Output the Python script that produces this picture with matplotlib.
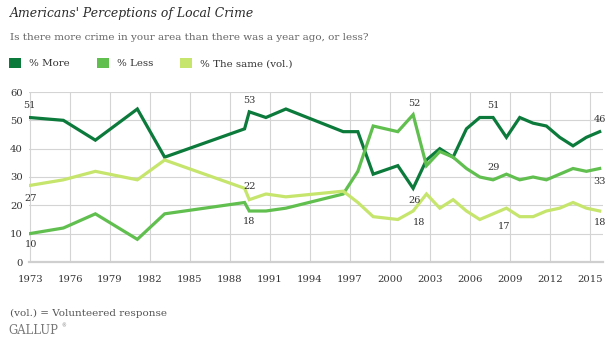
import matplotlib
matplotlib.use("Agg")
import matplotlib.pyplot as plt
from matplotlib.patches import Patch

# Survey dates (decimal years) and percentages
DATES = [1972.95, 1975.5, 1977.9, 1981.05, 1983.1, 1989.1, 1989.45, 1990.7,
         1992.2, 1996.5, 1997.6, 1998.75, 2000.6, 2001.75, 2002.75, 2003.75,
         2004.75, 2005.75, 2006.75, 2007.75, 2008.75, 2009.75, 2010.75,
         2011.75, 2012.75, 2013.75, 2014.75, 2015.75]
MORE = [51, 50, 43, 54, 37, 47, 53, 51, 54, 46, 46, 31, 34, 26, 36, 40, 37,
        47, 51, 51, 44, 51, 49, 48, 44, 41, 44, 46]
LESS = [10, 12, 17, 8, 17, 21, 18, 18, 19, 24, 32, 48, 46, 52, 34, 39, 37,
        33, 30, 29, 31, 29, 30, 29, 31, 33, 32, 33]
SAME = [27, 29, 32, 29, 36, 26, 22, 24, 23, 25, 21, 16, 15, 18, 24, 19, 22,
        18, 15, 17, 19, 16, 16, 18, 19, 21, 19, 18]

SERIES_NAMES = ["% More", "% Less", "% The same (vol.)"]
COLORS = ["#0b7a3b", "#61bf4f", "#c6e56c"]
YEAR_TICKS = list(range(1973, 2016, 3))
Y_TICKS = [0, 10, 20, 30, 40, 50, 60]

# (series index, point index, offset in points)
LABELS = [
    (0, 0, (0, 8.6)), (2, 0, (1, -9.4)), (1, 0, (1, -8)),
    (0, 6, (0, 8)), (2, 6, (0, 9.4)), (1, 6, (0, -7.5)),
    (1, 13, (1, 8)), (0, 13, (1, -8.6)), (2, 13, (4, -8)),
    (0, 19, (0, 8.6)), (1, 19, (0, 8.6)), (2, 19, (8, -9.4)),
    (0, 27, (0, 8.6)), (1, 27, (0, -9.4)), (2, 27, (0, -8)),
]

W, H = 611, 358
SERIF = "DejaVu Serif"

fig = plt.figure(figsize=(W / 100, H / 100), dpi=100)
fig.patch.set_facecolor("white")

ax = fig.add_axes([29 / W, 1 - 262 / H, (603 - 29) / W, (262 - 92) / H])
series = [MORE, LESS, SAME]
for vals, color in zip(series, COLORS):
    ax.plot(DATES, vals, color=color, lw=2.3, solid_joinstyle="miter", zorder=3)

for si, pi, off in LABELS:
    ax.annotate(str(series[si][pi]), (DATES[pi], series[si][pi]),
                textcoords="offset points", xytext=off, ha="center", va="center",
                fontsize=7, family=SERIF, color="#333333", zorder=5,
                annotation_clip=False)

ax.set_xlim(1972.92, 2016.0)
ax.set_ylim(0, 60)
ax.set_xticks(YEAR_TICKS)
ax.set_yticks(Y_TICKS)
ax.grid(True, color="#d4d4d4", lw=0.8, zorder=0)
ax.set_axisbelow(True)
for side in ["top", "right", "left"]:
    ax.spines[side].set_visible(False)
ax.spines["bottom"].set_color("#cfcfcf")
ax.spines["bottom"].set_linewidth(1.6)
ax.tick_params(length=0, labelsize=7.2, labelcolor="#333333")
ax.tick_params(axis="x", pad=9)
ax.tick_params(axis="y", pad=4.5)
for lab in ax.get_xticklabels() + ax.get_yticklabels():
    lab.set_family(SERIF)

fig.text(10 / W, 1 - 14 / H, "Americans' Perceptions of Local Crime",
         family=SERIF, style="italic", fontsize=8.9, color="#2b2b2b", va="center")
fig.text(10 / W, 1 - 37 / H,
         "Is there more crime in your area than there was a year ago, or less?",
         family=SERIF, fontsize=7.5, color="#666666", va="center")

handles = [Patch(facecolor=c, edgecolor="none", label=n) for n, c in zip(SERIES_NAMES, COLORS)]
fig.legend(handles=handles, loc="center left", bbox_to_anchor=(5 / W, 1 - 63 / H),
           ncol=3, frameon=False, prop={"family": SERIF, "size": 7.4},
           handlelength=1.2, handleheight=1.2, handletextpad=0.75,
           columnspacing=2.6, labelcolor="#333333", borderaxespad=0)

fig.text(10 / W, 1 - 313 / H, "(vol.) = Volunteered response",
         family=SERIF, fontsize=7.5, color="#555555", va="center")
fig.text(8 / W, 1 - 330 / H, "GALLUP", family=SERIF, fontsize=8.3,
         color="#777777", va="center")
fig.text(61 / W, 1 - 326 / H, "®", family=SERIF, fontsize=3.5,
         color="#777777", va="center")

fig.savefig("out.png", dpi=100, facecolor="white")
